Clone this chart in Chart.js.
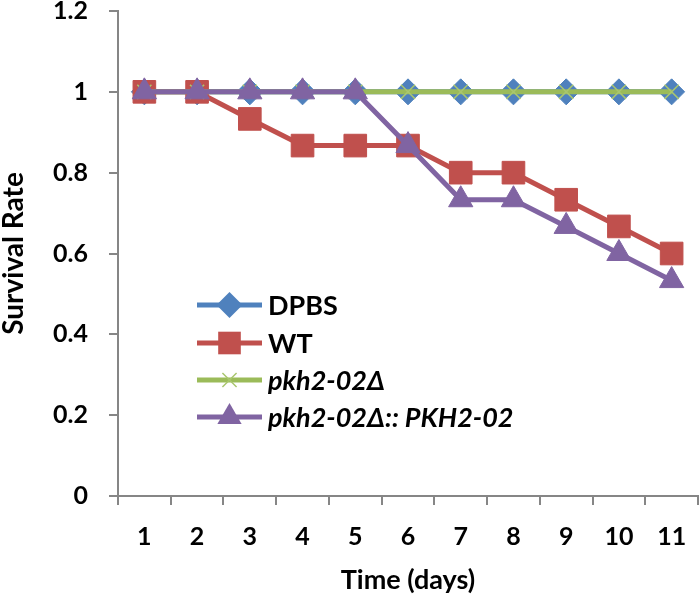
<!DOCTYPE html>
<html>
<head>
<meta charset="utf-8">
<script src="https://cdn.jsdelivr.net/npm/chart.js@4/dist/chart.umd.min.js"></script>
<style>
html,body{margin:0;padding:0;background:#fff;}
#wrap{width:700px;height:598px;position:relative;}
</style>
</head>
<body>
<div id="wrap"><canvas id="c" width="700" height="598"></canvas></div>
<script>
const days = ["1","2","3","4","5","6","7","8","9","10","11"];
const seriesNames = ["DPBS","WT","pkh2-02\u0394","pkh2-02\u0394:: PKH2-02"];
const dpbs = [1,1,1,1,1,1,1,1,1,1,1];
const wt = [1,1,0.933,0.867,0.867,0.867,0.8,0.8,0.733,0.667,0.6];
const pkhDel = [1,1,1,1,1,1,1,1,1,1,1];
const pkhComp = [1,1,1,1,1,0.867,0.733,0.733,0.667,0.6,0.533];
const yTicks = [0,0.2,0.4,0.6,0.8,1,1.2];

const FONT = "Lato, 'Liberation Sans', sans-serif";
const italicFlags = [false,false,true,true];

const legendPlugin = {
  id:'inLegend',
  afterDatasetsDraw(chart){
    const ctx = chart.ctx;
    const x0 = 197, x1 = 262, tx = 268;
    const rows = [305,343,380,417];
    chart.data.datasets.forEach((ds,i)=>{
      const y = rows[i];
      ctx.save();
      ctx.strokeStyle = ds.borderColor;
      ctx.lineWidth = ds.borderWidth;
      ctx.beginPath(); ctx.moveTo(x0,y); ctx.lineTo(x1,y); ctx.stroke();
      const cx = (x0+x1)/2;
      const r = ds.pointRadius;
      ctx.fillStyle = ds.pointBackgroundColor;
      ctx.strokeStyle = ds.pointBorderColor;
      ctx.lineWidth = ds.pointBorderWidth;
      ctx.beginPath();
      if (ds.pointStyle==='rectRot'){
        ctx.moveTo(cx,y-r);ctx.lineTo(cx+r,y);ctx.lineTo(cx,y+r);ctx.lineTo(cx-r,y);ctx.closePath();ctx.fill();
      } else if (ds.pointStyle==='rect'){
        const s=r*Math.SQRT1_2; ctx.rect(cx-s,y-s,2*s,2*s); ctx.fill();
      } else if (ds.pointStyle==='triangle'){
        ctx.moveTo(cx,y-r); ctx.lineTo(cx+r*Math.sin(Math.PI/3), y+r/2); ctx.lineTo(cx-r*Math.sin(Math.PI/3), y+r/2); ctx.closePath(); ctx.fill();
      } else if (ds.pointStyle==='crossRot'){
        const s=r*Math.SQRT1_2; ctx.moveTo(cx-s,y-s);ctx.lineTo(cx+s,y+s);ctx.moveTo(cx+s,y-s);ctx.lineTo(cx-s,y+s);ctx.stroke();
      }
      ctx.fillStyle = '#000';
      ctx.font = (italicFlags[i]?'italic ':'') + 'bold 27px ' + FONT;
      ctx.textBaseline = 'middle';
      ctx.textAlign = 'left';
      ctx.fillText(ds.label, tx, y+1);
      ctx.restore();
    });
  }
};

const mk = (label, data, color, style, radius, order, ptColor, bw) => ({
  label, data,
  borderColor: color, backgroundColor: color,
  borderWidth: 5,
  pointStyle: style, pointRadius: radius, pointHoverRadius: radius,
  pointBackgroundColor: ptColor || color, pointBorderColor: ptColor || color,
  pointBorderWidth: bw || 1,
  tension: 0, order
});

function zeroPad(s){ s.paddingTop=0; s.paddingBottom=0; s.paddingLeft=0; s.paddingRight=0; }

new Chart(document.getElementById('c'), {
  type:'line',
  data:{
    labels: days,
    datasets:[
      mk(seriesNames[0], dpbs, '#4F81BD', 'rectRot', 13, 4),
      mk(seriesNames[1], wt, '#C0504D', 'rect', 16, 3),
      mk(seriesNames[2], pkhDel, '#9BBB59', 'crossRot', 10, 2, '#A9C66E', 1.5),
      mk(seriesNames[3], pkhComp, '#8064A2', 'triangle', 14, 1)
    ]
  },
  options:{
    responsive:false,
    animation:false,
    layout:{autoPadding:false,padding:{top:11,right:2,left:0,bottom:0}},
    plugins:{legend:{display:false},tooltip:{enabled:false}},
    scales:{
      x:{
        offset:true,
        grid:{offset:true,drawOnChartArea:false,color:'#868686',lineWidth:2,tickLength:9,tickColor:'#868686'},
        border:{color:'#868686',width:2},
        ticks:{color:'#000',font:{family:FONT,size:25,weight:'bold'},padding:17,maxRotation:0},
        title:{display:true,text:'Time (days)',color:'#000',font:{family:FONT,size:27,weight:'bold'},padding:{top:0,bottom:2}},
        afterFit(s){ s.height = 102; zeroPad(s); }
      },
      y:{
        min:0,max:1.2,
        afterBuildTicks(s){ s.ticks = yTicks.map(v=>({value:v})); },
        grid:{drawOnChartArea:false,color:'#868686',lineWidth:2,tickLength:9,tickColor:'#868686'},
        border:{color:'#868686',width:2},
        ticks:{color:'#000',font:{family:FONT,size:25,weight:'bold'},padding:21,callback:v=>String(Math.round(v*10)/10)},
        title:{display:true,text:'Survival Rate',color:'#000',font:{family:FONT,size:28,weight:'bold',lineHeight:1},padding:{top:0,bottom:0}},
        afterFit(s){ s.width = 118; zeroPad(s); }
      }
    }
  },
  plugins:[legendPlugin]
});
</script>
</body>
</html>
